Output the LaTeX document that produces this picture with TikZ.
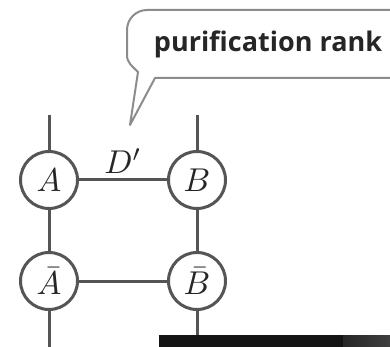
\documentclass[tikz,border=0pt]{standalone}
\usepackage{graphicx}
\usepackage{fontspec}
\newfontfamily\bubblefont{Open Sans}
\definecolor{linegray}{HTML}{555555}
\definecolor{bubblegray}{HTML}{8C8C8C}
\newcommand{\biglabel}[1]{\scalebox{3.3}{$#1$}}
\begin{document}
\begin{tikzpicture}[x=1pt,y=-1pt,
  tensor/.style={circle, draw=linegray, line width=3pt, fill=white,
    minimum size=57pt, inner sep=0pt, text=black!85},
  leg/.style={draw=linegray, line width=3pt},
  bubble/.style={draw=bubblegray, line width=2pt, fill=white, line join=round},
  bubbletext/.style={font=\bubblefont\bfseries\fontsize{27}{30}\selectfont, text=black!85}]
\useasboundingbox (0,0) rectangle (390,347);
\clip (0,0) rectangle (390,347);
\fill[white] (0,0) rectangle (390,347);

% speech bubble
\draw[bubble] (155,78) -- (405,78) -- (405,10) -- (147,10)
  to[out=180,in=90] (127,30) -- (127,55) to[out=-90,in=135] (138,72)
  -- (130,125) -- cycle;
\node[bubbletext] (label) at (268,44) {purification rank};

% tensor network
\node[tensor] (A) at (49,180) {\biglabel{A}};
\node[tensor] (B) at (197,180) {\biglabel{B}};
\node[tensor] (Abar) at (49,281) {\biglabel{\bar A}};
\node[tensor] (Bbar) at (197,281) {\biglabel{\bar B}};
\coordinate (At) at (49,115);
\coordinate (Bt) at (197,115);
\coordinate (Ab) at (49,352);
\coordinate (Bb) at (197,336);

\draw[leg] (At) -- (A);
\draw[leg] (Bt) -- (B);
\draw[leg] (A) -- (Abar);
\draw[leg] (B) -- (Bbar);
\draw[leg] (Abar) -- (Ab);
\draw[leg] (Bbar) -- (Bb);
\draw[leg] (A) -- node[above=2pt, text=black!85] (Dp) {\biglabel{D'}} (B);
\draw[leg] (Abar) -- (Bbar);

% dark bar along the bottom
\fill[black!92] (159,335) rectangle (343,347);
\shade[left color=black!85, right color=black!75] (343,335) rectangle (390,347);
\end{tikzpicture}
\end{document}
